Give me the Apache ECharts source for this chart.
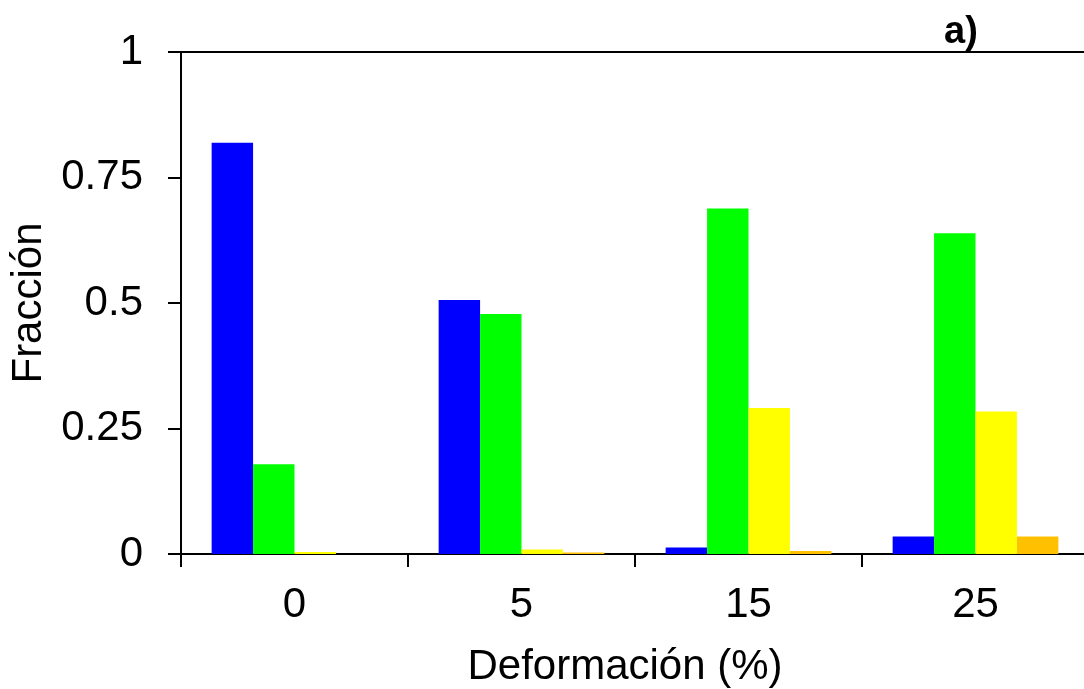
<!DOCTYPE html>
<html>
<head>
<meta charset="utf-8">
<script src="https://cdn.jsdelivr.net/npm/echarts@6/dist/echarts.min.js"></script>
<style>
    html, body {margin: 0; padding: 0; background: #fff;}
    #chart {width: 1084px; height: 689px;}
</style>
</head>
<body>
<div id="chart"></div>
<script>
// datos
var categorias = ['0', '5', '15', '25'];
var serieAzul = [0.819, 0.506, 0.013, 0.035];
var serieVerde = [0.179, 0.478, 0.688, 0.639];
var serieAmarilla = [0.004, 0.009, 0.291, 0.284];
var serieNaranja = [0, 0.003, 0.006, 0.035];
var ticksY = [0, 0.25, 0.5, 0.75, 1];

var fuente = '"Liberation Sans", Arial, sans-serif';

var myChart = echarts.init(document.getElementById('chart'));

function barra(nombre, datos, color) {
    return {
        name: nombre,
        type: 'bar',
        data: datos,
        barGap: 0,
        barCategoryGap: '27%',
        itemStyle: {color: color},
        silent: true
    };
}

myChart.setOption({
    animation: false,
    grid: {
        left: 181,
        top: 52,
        width: 908,
        height: 502,
        containLabel: false,
        outerBoundsMode: 'none'
    },
    title: {
        text: 'a)',
        left: 939,
        top: 9,
        textStyle: {
            fontFamily: fuente,
            fontWeight: 'bold',
            fontSize: 38,
            color: '#000'
        }
    },
    xAxis: [{
        type: 'category',
        data: categorias,
        position: 'bottom',
        axisLine: {lineStyle: {color: '#000', width: 2}},
        axisTick: {show: true, length: 13, lineStyle: {color: '#000', width: 2}},
        axisLabel: {
            color: '#000',
            fontFamily: fuente,
            fontSize: 42,
            margin: 30
        },
        name: 'Deformación (%)',
        nameLocation: 'middle',
        nameGap: 92,
        nameTextStyle: {
            color: '#000',
            fontFamily: fuente,
            fontSize: 42,
            padding: [0, 20, 0, 0]
        }
    }, {
        // linea superior del marco
        type: 'category',
        data: categorias,
        position: 'top',
        axisLine: {lineStyle: {color: '#000', width: 2}},
        axisTick: {show: false},
        axisLabel: {show: false}
    }],
    yAxis: {
        type: 'value',
        min: ticksY[0],
        max: ticksY[ticksY.length - 1],
        interval: 0.25,
        axisLine: {show: true, lineStyle: {color: '#000', width: 2}},
        axisTick: {show: true, length: 13, lineStyle: {color: '#000', width: 2}},
        splitLine: {show: false},
        axisLabel: {
            color: '#000',
            fontFamily: fuente,
            fontSize: 42,
            margin: 38,
            formatter: function (v) {
                return String(v);
            }
        },
        name: 'Fracción',
        nameLocation: 'middle',
        nameRotate: 90,
        nameGap: 128,
        nameTextStyle: {
            color: '#000',
            fontFamily: fuente,
            fontSize: 42
        }
    },
    series: [
        barra('azul', serieAzul, '#0000ff'),
        barra('verde', serieVerde, '#00ff00'),
        barra('amarillo', serieAmarilla, '#ffff00'),
        barra('naranja', serieNaranja, '#ffc000')
    ]
});
</script>
</body>
</html>
